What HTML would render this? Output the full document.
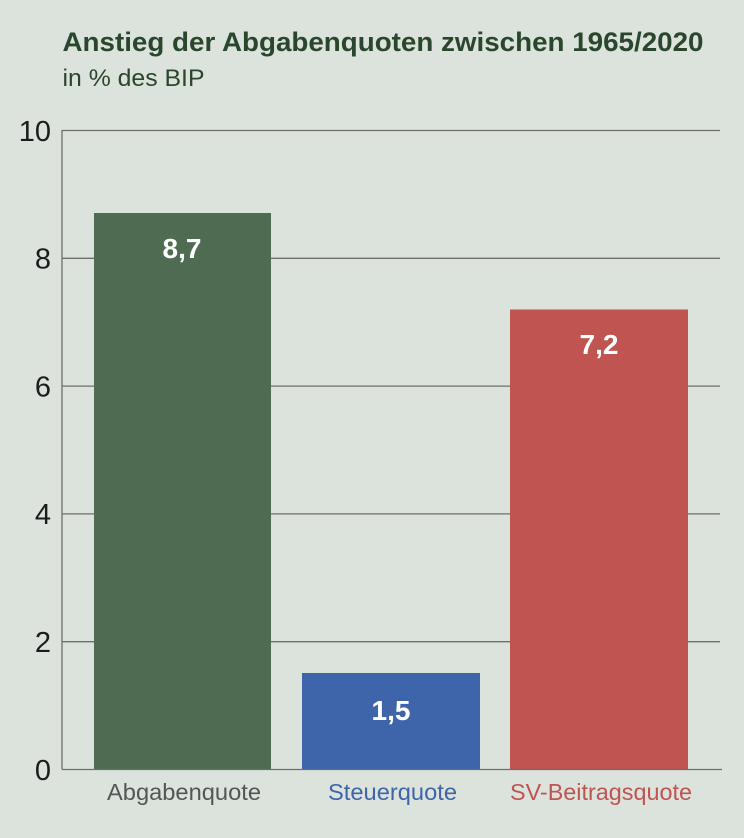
<!DOCTYPE html>
<html>
<head>
<meta charset="utf-8">
<style>
  html, body { margin: 0; padding: 0; background: #dce3dc; }
  svg { display: block; }
  text { font-family: "Liberation Sans", sans-serif; }
</style>
</head>
<body>
<svg width="744" height="838" viewBox="0 0 744 838" xmlns="http://www.w3.org/2000/svg">
  <rect x="0" y="0" width="744" height="838" fill="#dce3dc"/>

  <!-- Title -->
  <text x="62.5" y="51" font-size="26.5" font-weight="bold" fill="#2a472d" textLength="641" lengthAdjust="spacingAndGlyphs">Anstieg der Abgabenquoten zwischen 1965/2020</text>
  <text x="62.5" y="86" font-size="24" fill="#2a472d" textLength="142" lengthAdjust="spacingAndGlyphs">in % des BIP</text>

  <!-- Gridlines -->
  <g stroke="#6e6e6e" stroke-width="1.3">
    <line x1="62" y1="130.5" x2="720" y2="130.5"/>
    <line x1="62" y1="258.3" x2="720" y2="258.3"/>
    <line x1="62" y1="386.1" x2="720" y2="386.1"/>
    <line x1="62" y1="513.9" x2="720" y2="513.9"/>
    <line x1="62" y1="641.7" x2="720" y2="641.7"/>
  </g>

  <!-- Bars -->
  <rect x="94" y="213" width="177" height="556" fill="#4f6c53"/>
  <rect x="302" y="673" width="178" height="96" fill="#3e65aa"/>
  <rect x="510" y="309.5" width="178" height="459.5" fill="#bf5451"/>

  <!-- Axes -->
  <line x1="62" y1="130" x2="62" y2="769.5" stroke="#6e6e6e" stroke-width="1.3"/>
  <line x1="62" y1="769.5" x2="722" y2="769.5" stroke="#6e6e6e" stroke-width="1.3"/>

  <!-- Y tick labels -->
  <g font-size="29" fill="#1c1c1c" text-anchor="end">
    <text x="51" y="141">10</text>
    <text x="51" y="268.5">8</text>
    <text x="51" y="396.5">6</text>
    <text x="51" y="524">4</text>
    <text x="51" y="652">2</text>
    <text x="51" y="780">0</text>
  </g>

  <!-- Value labels -->
  <g font-size="28" font-weight="bold" fill="#ffffff" text-anchor="middle">
    <text x="182" y="258">8,7</text>
    <text x="391" y="720">1,5</text>
    <text x="599" y="354">7,2</text>
  </g>

  <!-- Category labels -->
  <text x="107" y="800" font-size="23" fill="#555555" textLength="154" lengthAdjust="spacingAndGlyphs">Abgabenquote</text>
  <text x="328" y="800" font-size="23" fill="#3e65aa" textLength="129" lengthAdjust="spacingAndGlyphs">Steuerquote</text>
  <text x="510" y="800" font-size="23" fill="#bf5451" textLength="182" lengthAdjust="spacingAndGlyphs">SV-Beitragsquote</text>
</svg>
</body>
</html>
